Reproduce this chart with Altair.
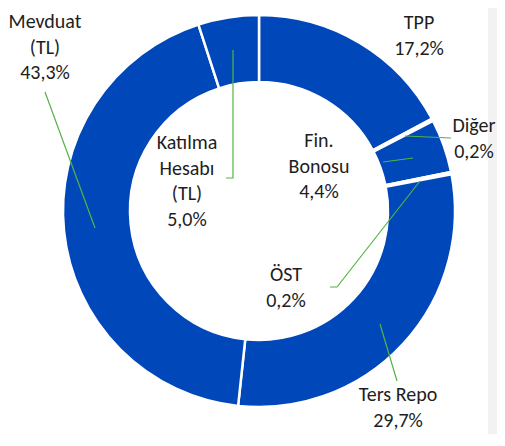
import altair as alt
import pandas as pd

# ---- data ----
categories = ["TPP", "Diğer", "Fin. Bonosu", "ÖST", "Ters Repo", "Mevduat (TL)", "Katılma Hesabı (TL)"]
shares = [17.2, 0.2, 4.4, 0.2, 29.7, 43.3, 5.0]
label_names = ["TPP", "Diğer", "Fin.\nBonosu", "ÖST", "Ters Repo", "Mevduat\n(TL)", "Katılma\nHesabı\n(TL)"]

# ---- layout (pixel positions for labels / leader lines, first-line centres) ----
label_x = [411, 466, 311, 278, 390, 37, 179]
label_y = [15, 118, 133, 267, 387, 14, 135]
leader_paths = {
    "Diğer": [(397, 128), (443, 130)],
    "Fin. Bonosu": [(375, 154), (405, 150)],
    "ÖST": [(322, 279), (329, 279), (412, 173)],
    "Ters Repo": [(372, 316), (389, 373)],
    "Mevduat (TL)": [(37, 84), (87, 220)],
    "Katılma Hesabı (TL)": [(218, 170), (225, 170), (225, 42)],
}

W, H = 489, 426
CX, CY = 251, 203
BLUE = "#0047BA"
GREEN = "#55B345"
FONT = "Carlito, Lato, sans-serif"

df = pd.DataFrame({"category": categories, "share": shares, "order": range(len(categories))})

lab = pd.DataFrame({
    "text": [f"{n}\n{str(v).replace('.', ',')}%" for n, v in zip(label_names, shares)],
    "x": label_x,
    "y": label_y,
})

rows = []
for k, pts in leader_paths.items():
    for i, (px, py) in enumerate(pts):
        rows.append({"cat": k, "i": i, "x": px, "y": py})
lines = pd.DataFrame(rows)

bg = alt.Chart(pd.DataFrame({"a": [0]})).mark_rect(color="#F2F2F2").encode(
    x=alt.value(480), x2=alt.value(W + 20), y=alt.value(-10), y2=alt.value(H + 20)
)

donut = alt.Chart(df).mark_arc(
    innerRadius=129, outerRadius=196, stroke="white", strokeWidth=2.5, color=BLUE
).encode(
    theta=alt.Theta("share:Q", stack=True),
    order=alt.Order("order:Q"),
    x=alt.value(CX),
    y=alt.value(CY),
)

leaders = alt.Chart(lines).mark_line(color=GREEN, strokeWidth=1.2).encode(
    x=alt.X("x:Q", scale=None),
    y=alt.Y("y:Q", scale=None),
    detail="cat:N",
    order="i:Q",
)

texts = alt.Chart(lab).mark_text(
    font=FONT, fontSize=20, lineBreak="\n", lineHeight=25.5, color="#1E1E1E",
    align="center", baseline="middle"
).encode(
    x=alt.X("x:Q", scale=None),
    y=alt.Y("y:Q", scale=None),
    text="text:N",
)

chart = alt.layer(bg, donut, leaders, texts).properties(
    width=W, height=H, padding=0, autosize=alt.AutoSizeParams(type="none")
).configure_view(stroke=None)

chart.save("out.html", embed_options={"renderer": "svg", "actions": False})
